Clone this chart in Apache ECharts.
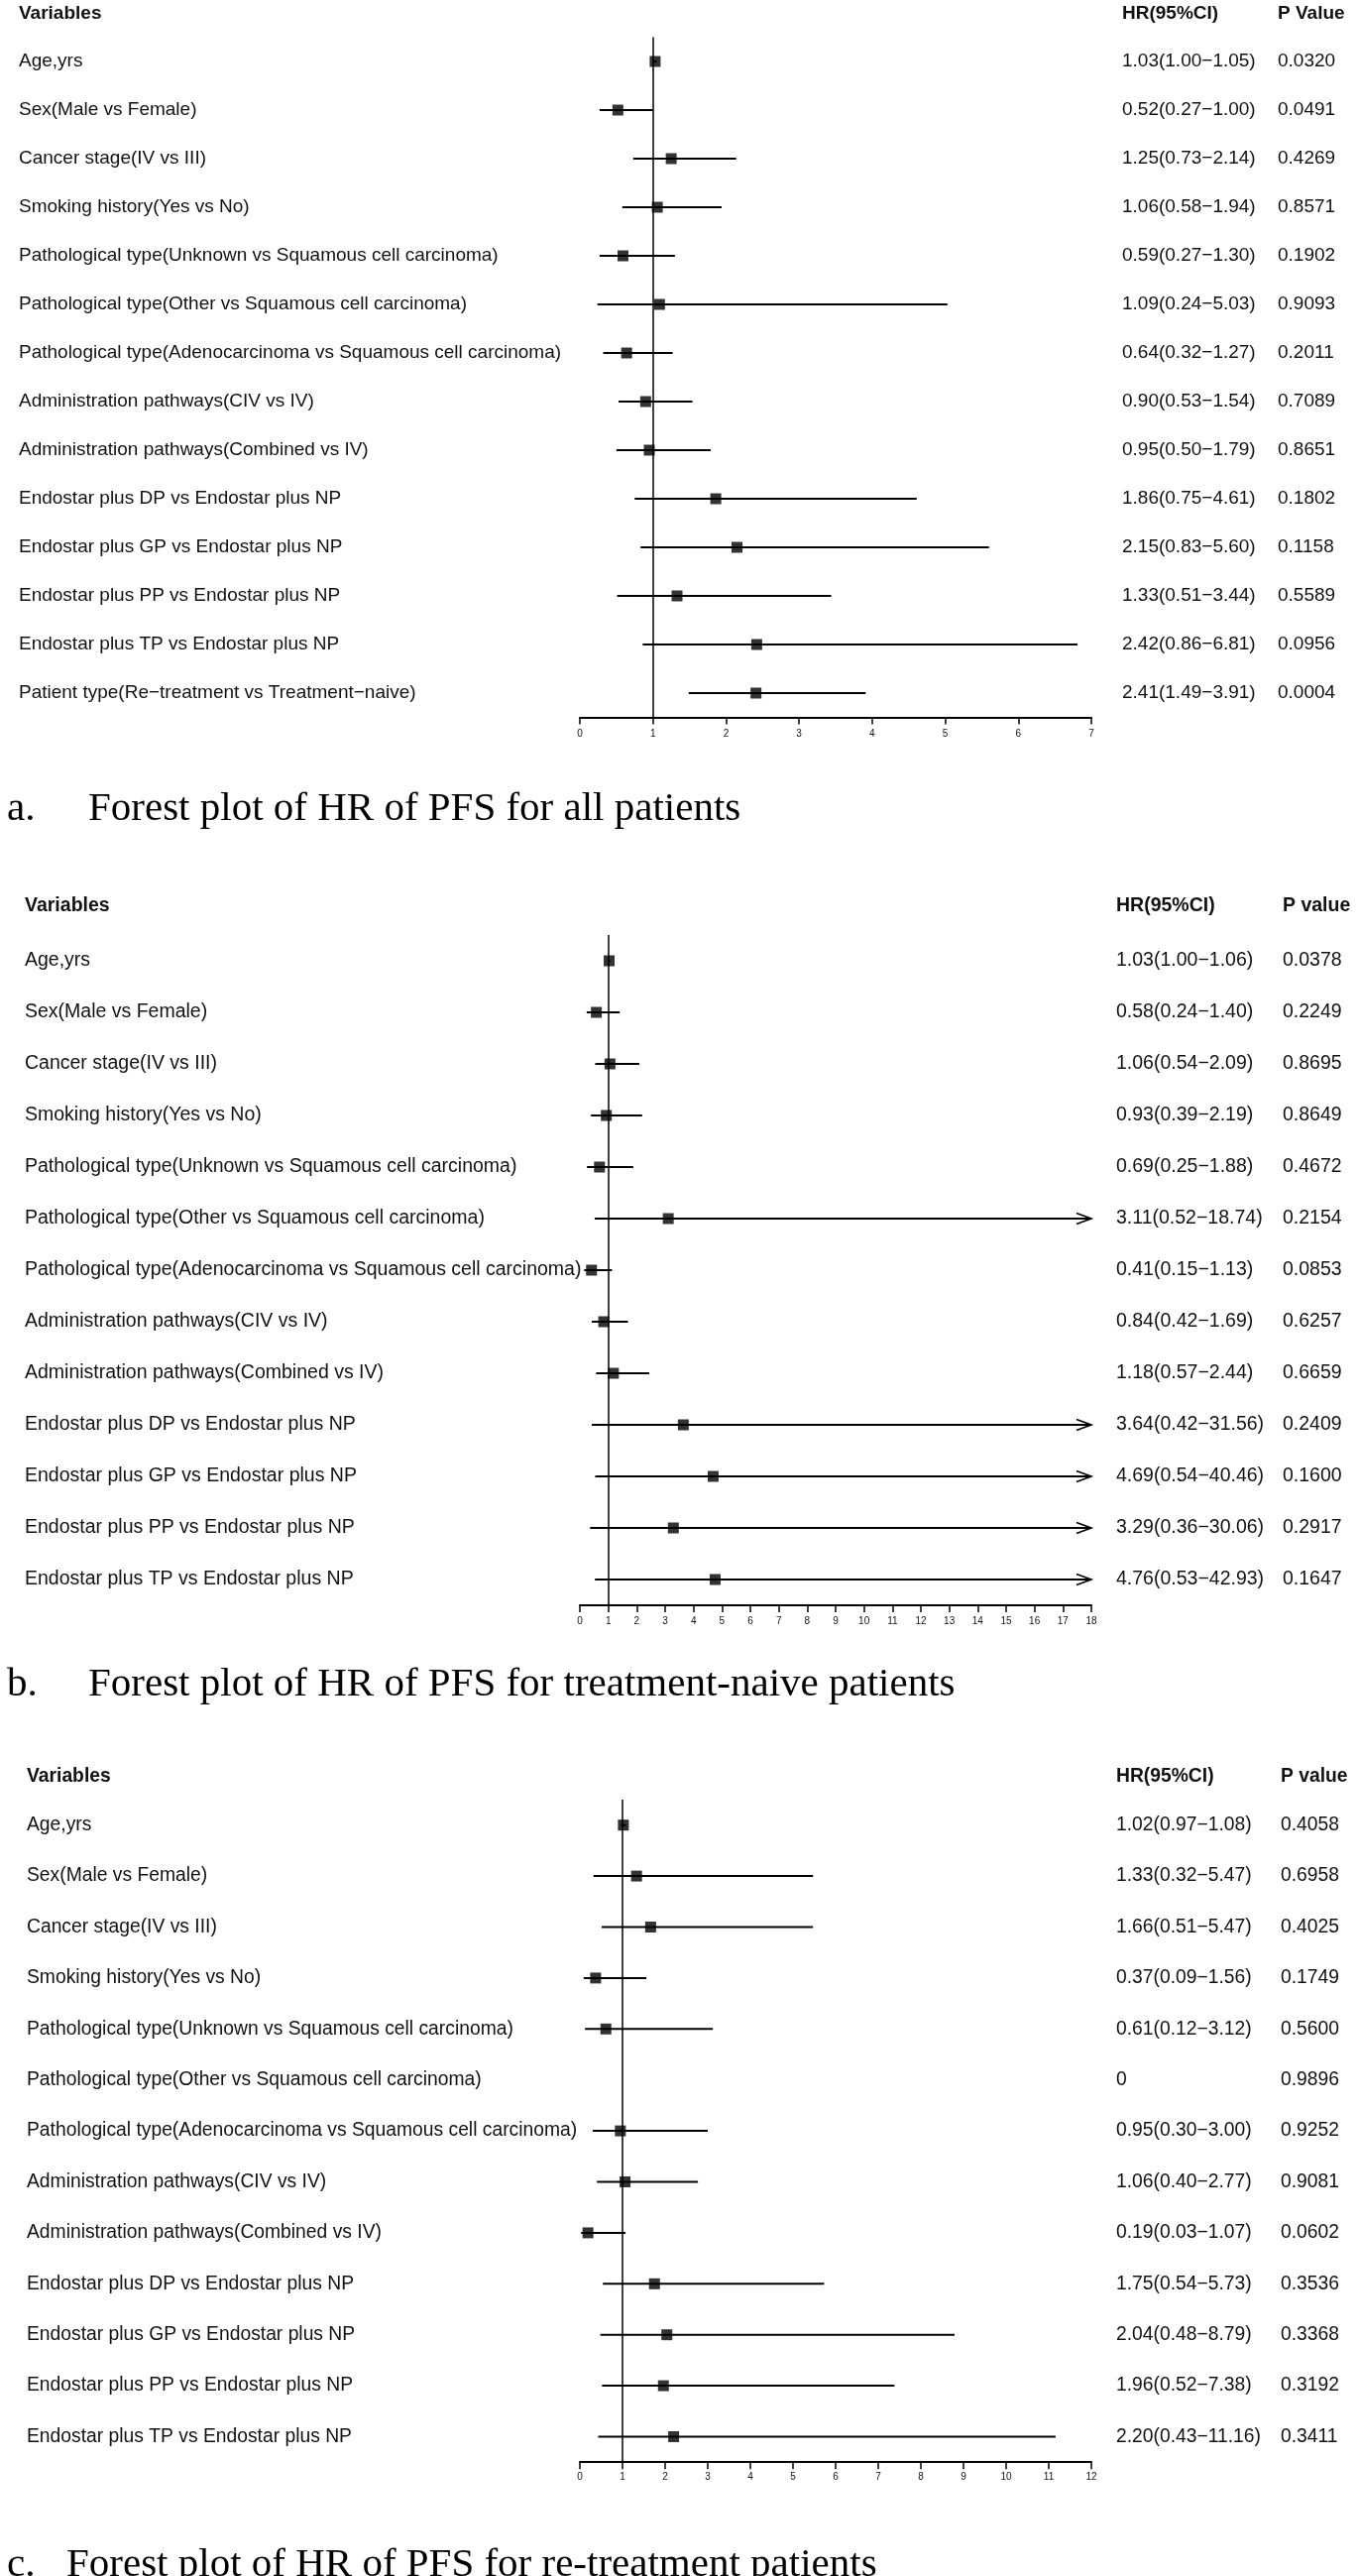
<!DOCTYPE html>
<html><head><meta charset="utf-8">
<script src="https://cdn.jsdelivr.net/npm/echarts@6/dist/echarts.min.js"></script>
<style>html,body{margin:0;padding:0;background:#fff}#c{width:1370px;height:2598px}</style>
</head><body><div id="c"></div>
<script>
// ---------- DATA ----------
const variablesA = [
  'Age,yrs','Sex(Male vs Female)','Cancer stage(IV vs III)','Smoking history(Yes vs No)',
  'Pathological type(Unknown vs Squamous cell carcinoma)','Pathological type(Other vs Squamous cell carcinoma)',
  'Pathological type(Adenocarcinoma vs Squamous cell carcinoma)','Administration pathways(CIV vs IV)',
  'Administration pathways(Combined vs IV)','Endostar plus DP vs Endostar plus NP','Endostar plus GP vs Endostar plus NP',
  'Endostar plus PP vs Endostar plus NP','Endostar plus TP vs Endostar plus NP','Patient type(Re\u2212treatment vs Treatment\u2212naive)'
];
const variablesBC = variablesA.slice(0, 13);

const hrA = [1.03,0.52,1.25,1.06,0.59,1.09,0.64,0.90,0.95,1.86,2.15,1.33,2.42,2.41];
const loA = [1.00,0.27,0.73,0.58,0.27,0.24,0.32,0.53,0.50,0.75,0.83,0.51,0.86,1.49];
const hiA = [1.05,1.00,2.14,1.94,1.30,5.03,1.27,1.54,1.79,4.61,5.60,3.44,6.81,3.91];
const pA  = ['0.0320','0.0491','0.4269','0.8571','0.1902','0.9093','0.2011','0.7089','0.8651','0.1802','0.1158','0.5589','0.0956','0.0004'];

const hrB = [1.03,0.58,1.06,0.93,0.69,3.11,0.41,0.84,1.18,3.64,4.69,3.29,4.76];
const loB = [1.00,0.24,0.54,0.39,0.25,0.52,0.15,0.42,0.57,0.42,0.54,0.36,0.53];
const hiB = [1.06,1.40,2.09,2.19,1.88,18.74,1.13,1.69,2.44,31.56,40.46,30.06,42.93];
const pB  = ['0.0378','0.2249','0.8695','0.8649','0.4672','0.2154','0.0853','0.6257','0.6659','0.2409','0.1600','0.2917','0.1647'];

const hrC = [1.02,1.33,1.66,0.37,0.61,0,0.95,1.06,0.19,1.75,2.04,1.96,2.20];
const loC = [0.97,0.32,0.51,0.09,0.12,null,0.30,0.40,0.03,0.54,0.48,0.52,0.43];
const hiC = [1.08,5.47,5.47,1.56,3.12,null,3.00,2.77,1.07,5.73,8.79,7.38,11.16];
const pC  = ['0.4058','0.6958','0.4025','0.1749','0.5600','0.9896','0.9252','0.9081','0.0602','0.3536','0.3368','0.3192','0.3411'];

const axisMaxA = 7, axisMaxB = 18, axisMaxC = 12;
const captions = [
  ['a.', 'Forest plot of HR of PFS for all patients'],
  ['b.', 'Forest plot of HR of PFS for treatment-naive patients'],
  ['c.', 'Forest plot of HR of PFS for re-treatment patients']
];

// ---------- LAYOUT ----------
const SANS = "'Liberation Sans', Arial, sans-serif";
const SERIF = "'Liberation Serif', 'Times New Roman', serif";
const GL = 585, GW = 516;
const panels = [
  {vars: variablesA, hr: hrA, lo: loA, hi: hiA, p: pA, max: axisMaxA, top: 37.5, rowH: 49, font: 19, labX: 19,
   headY: 14, pHead: 'P Value', hrX: 1132, pX: 1289, capBase: 828, capX: 89, cap: captions[0], tickM: 12},
  {vars: variablesBC, hr: hrB, lo: loB, hi: hiB, p: pB, max: axisMaxB, top: 943, rowH: 52, font: 19.5, labX: 25,
   headY: 914, pHead: 'P value', hrX: 1126, pX: 1294, capBase: 1711, capX: 89, cap: captions[1], tickM: 11},
  {vars: variablesBC, hr: hrC, lo: loC, hi: hiC, p: pC, max: axisMaxC, top: 1815, rowH: 51.4, font: 19.3, labX: 27,
   headY: 1792, pHead: 'P value', hrX: 1126, pX: 1292, capBase: 2599, capX: 67, cap: captions[2], tickM: 10}
];

function fmtHR(h, l, u) {
  if (l == null || u == null) return String(h);
  return h.toFixed(2) + '(' + l.toFixed(2) + '\u2212' + u.toFixed(2) + ')';
}

const grid = [], xAxis = [], yAxis = [], series = [], graphic = [];
panels.forEach((P, k) => {
  const n = P.vars.length;
  grid.push({left: GL, width: GW, top: P.top, height: n * P.rowH});
  xAxis.push({
    type: 'value', gridIndex: k, min: 0, max: P.max, interval: 1,
    axisLine: {show: true, lineStyle: {color: '#000', width: 2}},
    axisTick: {show: true, length: 7, lineStyle: {color: '#000', width: 1.5}},
    axisLabel: {fontSize: 10, color: '#111', margin: P.tickM, fontFamily: SANS},
    splitLine: {show: false}
  });
  const hrStr = P.hr.map((h, i) => fmtHR(h, P.lo[i], P.hi[i]));
  yAxis.push({
    type: 'category', gridIndex: k, data: P.vars, inverse: true,
    axisLine: {show: false}, axisTick: {show: false}, splitLine: {show: false},
    axisLabel: {align: 'left', margin: GL - P.labX, fontSize: P.font, color: '#111', fontFamily: SANS}
  });
  yAxis.push({
    type: 'category', gridIndex: k, data: P.vars, inverse: true, position: 'right',
    axisLine: {show: false}, axisTick: {show: false}, splitLine: {show: false},
    axisLabel: {
      align: 'left', margin: P.hrX - (GL + GW), color: '#111',
      formatter: (v, i) => '{h|' + hrStr[i] + '}{p|' + P.p[i] + '}',
      rich: {
        h: {width: P.pX - P.hrX, fontSize: P.font, color: '#111', fontFamily: SANS},
        p: {fontSize: P.font, color: '#111', fontFamily: SANS}
      }
    }
  });
  const ciData = [];
  P.hr.forEach((h, i) => { if (P.lo[i] != null) ciData.push([P.lo[i], P.hi[i], i]); });
  series.push({
    type: 'custom', xAxisIndex: k, yAxisIndex: 2 * k, data: ciData,
    encode: {x: [0, 1], y: 2}, clip: false, silent: true,
    renderItem: (params, api) => {
      const lo = api.value(0), hi = api.value(1), idx = api.value(2);
      const a = api.coord([lo, idx]);
      const b = api.coord([Math.min(hi, P.max), idx]);
      const ch = [{type: 'line', shape: {x1: a[0], y1: a[1], x2: b[0], y2: b[1]},
                   style: {stroke: '#000', lineWidth: 2}}];
      if (hi > P.max) {
        ch.push({type: 'polyline', shape: {points: [[b[0] - 15, b[1] - 5.5], [b[0], b[1]], [b[0] - 15, b[1] + 5.5]]},
                 style: {stroke: '#000', fill: null, lineWidth: 1.6}});
      }
      return {type: 'group', children: ch};
    }
  });
  const ptData = [];
  P.hr.forEach((h, i) => { if (P.lo[i] != null) ptData.push([h, i]); });
  series.push({
    type: 'scatter', xAxisIndex: k, yAxisIndex: 2 * k, data: ptData,
    symbol: 'rect', symbolSize: [11, 11], itemStyle: {color: '#000'}, silent: true, z: 5,
    markLine: {
      silent: true, symbol: ['none', 'none'], label: {show: false},
      lineStyle: {color: '#000', width: 1.5, type: 'solid'},
      data: [{xAxis: 1}]
    }
  });
  // headers
  const hs = {fontSize: P.font, fontWeight: 'bold', fill: '#111', fontFamily: SANS, verticalAlign: 'middle', align: 'left'};
  graphic.push({type: 'text', x: P.labX, y: P.headY, style: Object.assign({text: 'Variables'}, hs)});
  graphic.push({type: 'text', x: P.hrX, y: P.headY, style: Object.assign({text: 'HR(95%CI)'}, hs)});
  graphic.push({type: 'text', x: P.pX, y: P.headY, style: Object.assign({text: P.pHead}, hs)});
  // caption (bottom of em box = baseline + descent)
  const cs = {fontSize: 41, fill: '#000', fontFamily: SERIF, verticalAlign: 'bottom', align: 'left'};
  const cy = P.capBase + 9;
  graphic.push({type: 'text', x: 7, y: cy, style: Object.assign({text: P.cap[0]}, cs)});
  graphic.push({type: 'text', x: P.capX, y: cy, style: Object.assign({text: P.cap[1]}, cs)});
});

const chart = echarts.init(document.getElementById('c'), null, {renderer: 'canvas'});
chart.setOption({backgroundColor: '#fff', animation: false, grid, xAxis, yAxis, series, graphic});
</script>
</body></html>
